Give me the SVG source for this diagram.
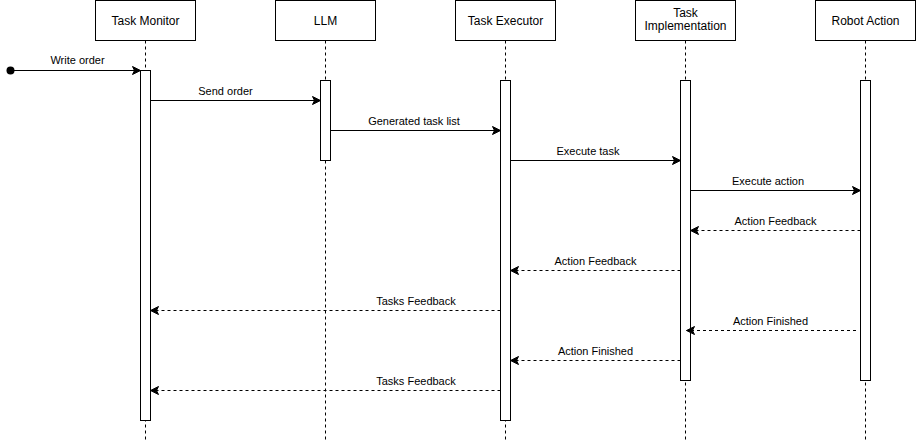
<svg xmlns="http://www.w3.org/2000/svg" width="916" height="441" viewBox="0 0 916 441">
<defs>
<style>
.box{fill:#fff;stroke:#000;stroke-width:1}
.life{stroke:#000;stroke-width:1;stroke-dasharray:3 3;fill:none}
.act{fill:#fff;stroke:#000;stroke-width:1}
.hd{font-family:"Liberation Sans",Arial,sans-serif;font-size:12px;fill:#000;text-anchor:middle}
.lb{font-family:"Liberation Sans",Arial,sans-serif;font-size:11px;fill:#000;text-anchor:middle}
.msg{stroke:#000;stroke-width:1;fill:none}
.ret{stroke:#000;stroke-width:1;fill:none;stroke-dasharray:3 3}
</style>
<marker id="arr" markerUnits="userSpaceOnUse" viewBox="-9 -5 10 10" refX="0" refY="0" markerWidth="10" markerHeight="10" orient="auto">
<path d="M0,0 L-8,-4 L-6,0 L-8,4 Z" fill="#000" stroke="#000" stroke-width="1"/>
</marker>
</defs>
<g id="task-monitor">
<line class="life" x1="145.5" y1="40.5" x2="145.5" y2="441"/>
<rect class="box" x="95.5" y="0.5" width="100" height="40"/>
<text class="hd" x="145.5" y="24.5">Task Monitor</text>
<rect class="act" x="140.5" y="70.5" width="10" height="350"/>
</g>
<g id="llm">
<line class="life" x1="325.5" y1="40.5" x2="325.5" y2="441"/>
<rect class="box" x="275.5" y="0.5" width="100" height="40"/>
<text class="hd" x="325.5" y="24.5">LLM</text>
<rect class="act" x="320.5" y="80.5" width="10" height="80"/>
</g>
<g id="task-executor">
<line class="life" x1="505.5" y1="40.5" x2="505.5" y2="441"/>
<rect class="box" x="455.5" y="0.5" width="100" height="40"/>
<text class="hd" x="505.5" y="24.5">Task Executor</text>
<rect class="act" x="500.5" y="80.5" width="10" height="340"/>
</g>
<g id="task-implementation">
<line class="life" x1="685.5" y1="40.5" x2="685.5" y2="441"/>
<rect class="box" x="635.5" y="0.5" width="100" height="40"/>
<text class="hd" x="685.5" y="16.5">Task</text>
<text class="hd" x="685.5" y="30">Implementation</text>
<rect class="act" x="680.5" y="80.5" width="10" height="300"/>
</g>
<g id="robot-action">
<line class="life" x1="865.5" y1="40.5" x2="865.5" y2="441"/>
<rect class="box" x="815.5" y="0.5" width="100" height="40"/>
<text class="hd" x="865.5" y="24.5">Robot Action</text>
<rect class="act" x="860.5" y="80.5" width="10" height="300"/>
</g>
<g id="connectors">
<circle cx="10.5" cy="70.5" r="4" fill="#000"/>
<line class="msg" x1="10.5" y1="70.5" x2="140.5" y2="70.5" marker-end="url(#arr)"/>
<text class="lb" x="77.5" y="64">Write order</text>
<line class="msg" x1="150.5" y1="100.5" x2="320.5" y2="100.5" marker-end="url(#arr)"/>
<text class="lb" x="225.5" y="94.5">Send order</text>
<line class="msg" x1="330.5" y1="130.5" x2="500.5" y2="130.5" marker-end="url(#arr)"/>
<text class="lb" x="414" y="124.5">Generated task list</text>
<line class="msg" x1="510.5" y1="160.5" x2="680.5" y2="160.5" marker-end="url(#arr)"/>
<text class="lb" x="588" y="154.5">Execute task</text>
<line class="msg" x1="690.5" y1="190.5" x2="860.5" y2="190.5" marker-end="url(#arr)"/>
<text class="lb" x="768" y="184.5">Execute action</text>
<line class="ret" x1="860.5" y1="230.5" x2="690.5" y2="230.5" marker-end="url(#arr)"/>
<text class="lb" x="775.5" y="224.5">Action Feedback</text>
<line class="ret" x1="680.5" y1="270.5" x2="510.5" y2="270.5" marker-end="url(#arr)"/>
<text class="lb" x="595.5" y="264.5">Action Feedback</text>
<line class="ret" x1="500.5" y1="310.5" x2="150.5" y2="310.5" marker-end="url(#arr)"/>
<text class="lb" x="416" y="304.5">Tasks Feedback</text>
<line class="ret" x1="856" y1="330.5" x2="686.5" y2="330.5" marker-end="url(#arr)"/>
<text class="lb" x="770.5" y="324.5">Action Finished</text>
<line class="ret" x1="680.5" y1="360.5" x2="510.5" y2="360.5" marker-end="url(#arr)"/>
<text class="lb" x="595.5" y="354.5">Action Finished</text>
<line class="ret" x1="500.5" y1="390.5" x2="150.5" y2="390.5" marker-end="url(#arr)"/>
<text class="lb" x="416" y="384.5">Tasks Feedback</text>
</g>
</svg>
